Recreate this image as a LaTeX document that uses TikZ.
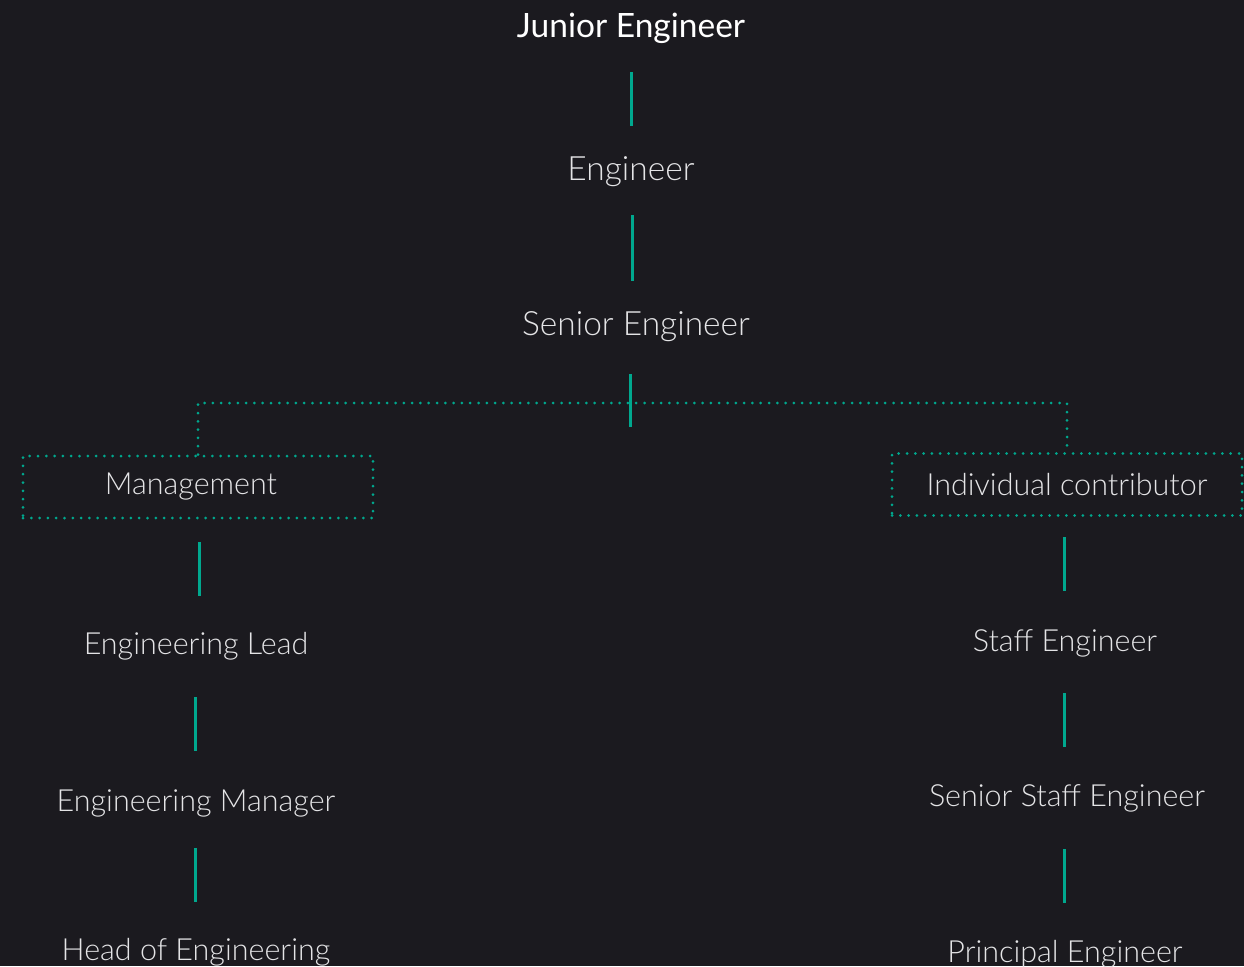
\documentclass[tikz,border=0pt]{standalone}
\usepackage{fontspec}
\IfFontExistsTF{Lato Light}{\setmainfont{Lato Light}[BoldFont=Lato]}{\setmainfont{Lato}}
\usetikzlibrary{positioning}
\definecolor{bg}{HTML}{1B1A1F}
\definecolor{teal}{HTML}{00A88E}
\definecolor{txt}{HTML}{E4E4E6}
\tikzset{
  lbl/.style={text=txt, font=\fontsize{30.5}{36}\selectfont, inner sep=0pt, anchor=center},
  big/.style={lbl, font=\fontsize{33.5}{40}\selectfont},
  title/.style={lbl, text=white, font=\fontsize{33.5}{40}\selectfont\bfseries},
  conn/.style={draw=teal, line width=3pt},
  dotl/.style={draw=teal, line width=3pt, line cap=round, dash pattern=on 0pt off 8.3pt},
  grp/.style={lbl, dotl, minimum width=350pt, minimum height=62pt}
}
\begin{document}
\begin{tikzpicture}[x=1pt,y=-1pt]
\useasboundingbox (0,0) rectangle (1244,966);
\fill[bg] (0,0) rectangle (1244,966);
% nodes
\node[title] (je) at (631,28) {Junior Engineer};
\node[big] (en) at (631,172) {Engineer};
\node[big] (se) at (636,327) {Senior Engineer};
\node[grp] (mg) at (198,487) {\hspace*{-14pt}Management};
\node[grp] (ic) at (1067,484.5) {\raisebox{1pt}{Individual contributor}};
\node[lbl] (el) at (196,646) {Engineering Lead};
\node[lbl] (em) at (196,803) {Engineering Manager};
\node[lbl] (he) at (196,952) {Head of Engineering};
\node[lbl] (sf) at (1065,643) {Staff Engineer};
\node[lbl] (ss) at (1067,798) {Senior Staff Engineer};
\node[lbl] (pe) at (1065,954) {Principal Engineer};
% connector end points
\coordinate (a1) at (631,72);  \coordinate (b1) at (631,126);
\coordinate (a2) at (632,215); \coordinate (b2) at (632,281);
\coordinate (a3) at (630,374); \coordinate (b3) at (630,427);
\coordinate (a4) at (199,542); \coordinate (b4) at (199,596);
\coordinate (a5) at (195,697); \coordinate (b5) at (195,751);
\coordinate (a6) at (195,848); \coordinate (b6) at (195,902);
\coordinate (a7) at (1064,537); \coordinate (b7) at (1064,591);
\coordinate (a8) at (1064,693); \coordinate (b8) at (1064,747);
\coordinate (a9) at (1064,849); \coordinate (b9) at (1064,903);
\coordinate (split) at (630,403);
\foreach \i in {1,...,9} {\draw[conn] (a\i) -- (b\i);}
% dotted split
\draw[dotl] (mg.north) -- (mg.north |- split) -- (ic.north |- split) -- (ic.north);
\end{tikzpicture}
\end{document}
